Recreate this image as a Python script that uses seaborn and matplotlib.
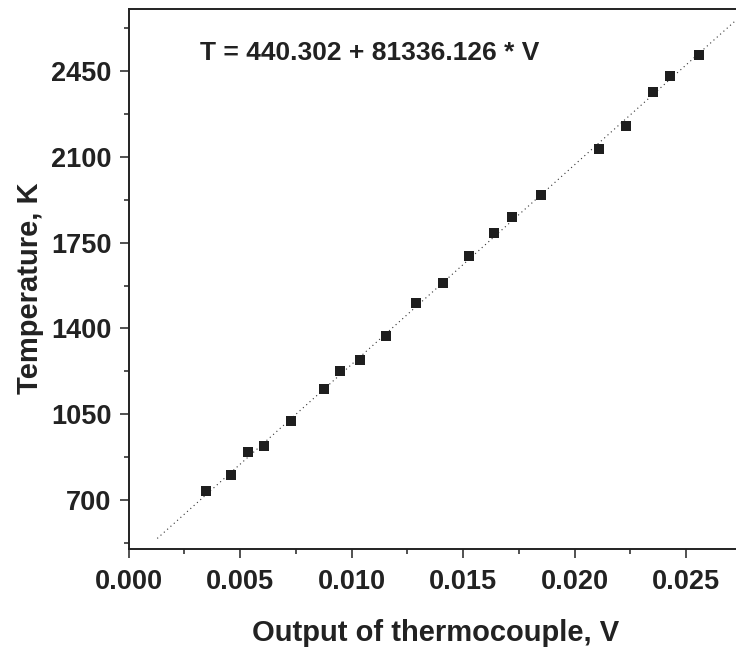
import numpy as np
import pandas as pd
import matplotlib
matplotlib.use("Agg")
import matplotlib.pyplot as plt
from matplotlib.ticker import MultipleLocator, FormatStrFormatter
import seaborn as sns

voltage = [0.00347, 0.00458, 0.00537, 0.00608, 0.00728, 0.00878, 0.00948,
           0.01039, 0.01156, 0.01289, 0.01409, 0.01528, 0.01640, 0.01719,
           0.01850, 0.02110, 0.02231, 0.02351, 0.02430, 0.02560]
temperature = [737, 802, 896, 920, 1022, 1154, 1227, 1271, 1368, 1503,
               1587, 1696, 1788, 1855, 1944, 2131, 2227, 2363, 2428, 2513]

# linear fit
fit_intercept = 440.302
fit_slope = 81336.126
fit_range = [0.00128, 0.0278]

x_ticks = [0.000, 0.005, 0.010, 0.015, 0.020, 0.025]
y_ticks = [700, 1050, 1400, 1750, 2100, 2450]

df = pd.DataFrame({"V": voltage, "T": temperature})
v_fit = np.linspace(fit_range[0], fit_range[1], 50)
fit_df = pd.DataFrame({"V": v_fit, "T": fit_intercept + fit_slope * v_fit})

sns.set_theme(style="ticks")
plt.rcParams['font.family'] = ['Liberation Sans', 'DejaVu Sans']
plt.rcParams['font.weight'] = 'bold'

fig = plt.figure(figsize=(7.36, 6.5), dpi=100)
ax = fig.add_axes([0.1749, 0.1549, 0.8481, 0.8306])

# fit line (dotted) and data squares
ax.plot(fit_df["V"], fit_df["T"], color="#333333", lw=0.8,
        linestyle=(0, (1, 3)), zorder=2)
sns.scatterplot(data=df, x="V", y="T", marker="s", s=48, color="#1e1e1e",
                edgecolor="#1e1e1e", linewidth=0, ax=ax, zorder=3)

ax.set_xlim(0, 0.028)
ax.set_ylim(500, 2700)
ax.set_xticks(x_ticks)
ax.set_yticks(y_ticks)
ax.xaxis.set_major_formatter(FormatStrFormatter('%.3f'))
ax.xaxis.set_minor_locator(MultipleLocator(0.0025))
ax.yaxis.set_minor_locator(MultipleLocator(175))

for side in ["left", "bottom", "top"]:
    ax.spines[side].set_linewidth(1.4)
    ax.spines[side].set_color("#222222")
ax.spines["right"].set_visible(False)

ax.tick_params(axis="both", which="major", direction="out", length=6.5,
               width=1.1, labelsize=19.5, color="#222222", labelcolor="#222222")
ax.tick_params(axis="both", which="minor", direction="out", length=3.8,
               width=1.1, color="#222222")
ax.tick_params(axis="x", which="major", pad=8)
ax.tick_params(axis="y", which="major", pad=6)
for lab in ax.get_xticklabels() + ax.get_yticklabels():
    lab.set_fontweight("bold")

ax.set_xlabel("Output of thermocouple, V", fontsize=21, fontweight="bold",
              color="#222222")
ax.set_ylabel("Temperature, K", fontsize=21, fontweight="bold",
              color="#222222")
ax.xaxis.set_label_coords(0.491, -0.129)
ax.yaxis.set_label_coords(-0.136, 0.484)

ax.text(0.114, 0.919, "T = 440.302 + 81336.126 * V", transform=ax.transAxes,
        fontsize=19, fontweight="bold", va="center", ha="left", color="#222222")

fig.savefig("out.png", dpi=100)
